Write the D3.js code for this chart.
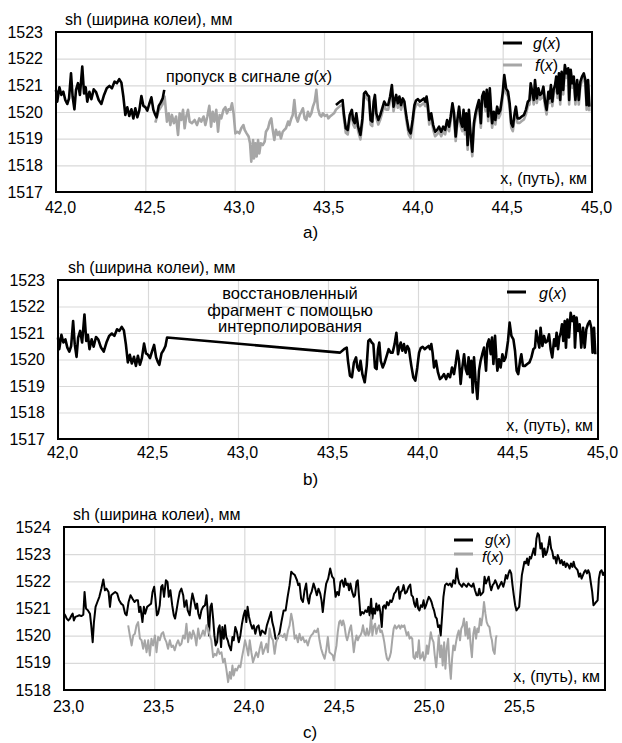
<!DOCTYPE html>
<html>
<head>
<meta charset="utf-8">
<script src="https://cdn.jsdelivr.net/npm/d3@7"></script>
<style>
  body { margin: 0; background: #fff; }
  text { font-family: "Liberation Sans", Arial, sans-serif; }
</style>
</head>
<body>
<svg id="chart"></svg>
<script>
// ---- data (km, mm) ----
const ticksXab = [42, 42.5, 43, 43.5, 44, 44.5, 45];
const ticksYab = [1517, 1518, 1519, 1520, 1521, 1522, 1523];
const ticksXc = [23, 23.5, 24, 24.5, 25, 25.5];
const ticksYc = [1518, 1519, 1520, 1521, 1522, 1523, 1524];

// g(x) before the gap
const gLeft = [[42.000,1520.83],[42.007,1520.39],[42.019,1520.93],[42.030,1520.64],[42.041,1520.76],[42.052,1520.45],[42.063,1520.30],[42.073,1520.51],[42.084,1521.45],[42.093,1520.58],[42.103,1520.10],[42.112,1520.83],[42.123,1521.08],[42.134,1520.64],[42.147,1521.70],[42.157,1520.70],[42.166,1520.93],[42.175,1520.39],[42.187,1520.76],[42.198,1520.48],[42.211,1520.85],[42.224,1520.75],[42.239,1520.45],[42.254,1520.30],[42.269,1520.64],[42.284,1520.89],[42.299,1520.98],[42.313,1520.89],[42.328,1521.14],[42.341,1521.08],[42.354,1521.23],[42.366,1521.10],[42.377,1520.58],[42.388,1519.89],[42.399,1520.18],[42.410,1519.85],[42.422,1520.10],[42.433,1519.76],[42.444,1520.14],[42.455,1519.80],[42.466,1520.05],[42.478,1520.60],[42.489,1520.23],[42.500,1520.18],[42.511,1520.05],[42.522,1520.30],[42.534,1520.55],[42.545,1520.08],[42.556,1519.89],[42.563,1519.80],[42.575,1520.23],[42.586,1520.35],[42.597,1520.51],[42.606,1520.83]];

// g(x) after the gap
const gRight = [[43.567,1520.26],[43.589,1520.39],[43.604,1520.45],[43.611,1519.95],[43.622,1519.39],[43.633,1519.33],[43.644,1519.89],[43.656,1520.08],[43.663,1519.70],[43.672,1519.58],[43.681,1519.95],[43.691,1519.45],[43.704,1519.14],[43.715,1519.76],[43.724,1520.70],[43.733,1520.76],[43.743,1520.64],[43.752,1520.58],[43.761,1519.70],[43.770,1519.64],[43.778,1520.39],[43.785,1520.64],[43.793,1519.95],[43.804,1519.70],[43.815,1519.89],[43.826,1520.14],[43.837,1520.39],[43.848,1520.26],[43.859,1520.26],[43.870,1520.58],[43.880,1521.01],[43.889,1520.20],[43.896,1520.45],[43.904,1520.64],[43.913,1520.33],[43.922,1520.58],[43.931,1520.26],[43.941,1520.51],[43.950,1520.39],[43.956,1520.08],[43.963,1519.76],[43.974,1519.33],[43.985,1519.20],[43.996,1519.70],[44.006,1520.26],[44.015,1520.43],[44.026,1520.48],[44.037,1520.39],[44.048,1520.45],[44.059,1520.51],[44.067,1520.39],[44.074,1520.58],[44.081,1520.26],[44.089,1519.70],[44.100,1519.95],[44.111,1519.51],[44.122,1519.26],[44.133,1519.33],[44.144,1519.45],[44.156,1519.26],[44.167,1519.45],[44.178,1519.33],[44.189,1519.70],[44.200,1519.45],[44.209,1519.83],[44.219,1520.33],[44.228,1519.95],[44.237,1519.08],[44.244,1519.58],[44.256,1520.20],[44.265,1519.64],[44.274,1519.45],[44.281,1520.08],[44.289,1519.33],[44.296,1519.95],[44.304,1518.76],[44.311,1520.08],[44.320,1519.20],[44.330,1518.51],[44.339,1519.58],[44.348,1519.95],[44.357,1520.20],[44.367,1520.45],[44.378,1519.58],[44.385,1520.58],[44.394,1520.76],[44.404,1520.20],[44.411,1520.83],[44.419,1519.83],[44.428,1520.89],[44.435,1520.08],[44.441,1519.58],[44.450,1520.01],[44.459,1519.70],[44.469,1520.20],[44.478,1519.95],[44.487,1520.08],[44.500,1520.70],[44.509,1521.39],[44.519,1520.89],[44.530,1520.76],[44.539,1520.33],[44.548,1519.58],[44.557,1519.45],[44.567,1519.95],[44.574,1520.20],[44.583,1519.76],[44.594,1519.76],[44.607,1519.83],[44.619,1519.89],[44.630,1520.08],[44.641,1520.39],[44.650,1520.45],[44.657,1521.08],[44.667,1520.70],[44.674,1520.45],[44.681,1521.20],[44.691,1520.51],[44.700,1520.89],[44.709,1520.64],[44.719,1520.70],[44.728,1520.95],[44.737,1520.39],[44.746,1520.08],[44.756,1520.76],[44.763,1520.51],[44.770,1521.01],[44.778,1520.39],[44.785,1520.83],[44.793,1521.01],[44.800,1521.33],[44.807,1520.70],[44.815,1521.45],[44.822,1520.45],[44.830,1521.51],[44.839,1520.83],[44.848,1521.76],[44.857,1521.45],[44.867,1521.64],[44.872,1520.45],[44.881,1521.58],[44.889,1521.08],[44.898,1521.33],[44.907,1520.45],[44.917,1521.20],[44.926,1520.45],[44.935,1521.14],[44.944,1521.33],[44.954,1521.45],[44.963,1521.20],[44.970,1520.26],[44.978,1521.20],[44.985,1520.20]];

// f(x), panel a
const fA = [[42.556,1519.60],[42.575,1520.05],[42.597,1520.30],[42.608,1520.58],[42.621,1519.64],[42.631,1519.95],[42.640,1519.51],[42.649,1519.89],[42.660,1519.58],[42.672,1519.83],[42.683,1519.14],[42.692,1519.95],[42.701,1519.70],[42.711,1520.08],[42.720,1519.39],[42.729,1519.83],[42.739,1520.08],[42.748,1519.64],[42.761,1519.58],[42.776,1519.70],[42.789,1519.51],[42.802,1519.76],[42.813,1519.64],[42.826,1519.83],[42.836,1519.51],[42.847,1519.83],[42.858,1520.23],[42.868,1519.45],[42.877,1520.01],[42.886,1519.64],[42.897,1520.08],[42.907,1519.26],[42.916,1519.89],[42.925,1519.76],[42.937,1520.08],[42.948,1520.18],[42.957,1519.95],[42.966,1520.10],[42.976,1520.08],[42.985,1520.33],[42.994,1519.95],[43.004,1519.20],[43.015,1519.26],[43.026,1519.20],[43.037,1519.39],[43.049,1519.51],[43.056,1519.33],[43.067,1519.20],[43.078,1519.08],[43.086,1518.83],[43.093,1518.14],[43.103,1518.95],[43.108,1518.26],[43.116,1518.83],[43.123,1518.33],[43.131,1518.95],[43.138,1518.45],[43.146,1518.83],[43.157,1518.76],[43.168,1518.89],[43.175,1519.26],[43.187,1519.39],[43.196,1519.64],[43.205,1519.76],[43.213,1519.33],[43.222,1518.95],[43.231,1519.33],[43.241,1519.14],[43.250,1519.26],[43.259,1519.01],[43.269,1519.26],[43.278,1519.33],[43.287,1519.39],[43.299,1519.64],[43.306,1519.51],[43.317,1519.76],[43.325,1519.89],[43.334,1520.45],[43.343,1519.83],[43.353,1519.64],[43.364,1519.89],[43.373,1520.01],[43.382,1520.14],[43.392,1519.76],[43.401,1519.70],[43.410,1520.01],[43.420,1519.83],[43.429,1519.95],[43.438,1520.20],[43.448,1520.39],[43.457,1520.83],[43.466,1520.14],[43.476,1519.89],[43.485,1519.83],[43.494,1519.95],[43.504,1519.85],[43.517,1519.89],[43.524,1519.76],[43.533,1519.83],[43.544,1519.89],[43.556,1519.95],[43.567,1520.09],[43.589,1520.22],[43.604,1520.28],[43.611,1519.78],[43.622,1519.22],[43.633,1519.16],[43.644,1519.72],[43.656,1519.91],[43.663,1519.53],[43.672,1519.41],[43.681,1519.78],[43.691,1519.28],[43.704,1518.97],[43.715,1519.59],[43.724,1520.53],[43.733,1520.59],[43.743,1520.47],[43.752,1520.41],[43.761,1519.53],[43.770,1519.47],[43.778,1520.22],[43.785,1520.47],[43.793,1519.78],[43.804,1519.53],[43.815,1519.72],[43.826,1519.97],[43.837,1520.22],[43.848,1520.09],[43.859,1520.09],[43.870,1520.41],[43.880,1520.84],[43.889,1520.03],[43.896,1520.28],[43.904,1520.47],[43.913,1520.16],[43.922,1520.41],[43.931,1520.09],[43.941,1520.34],[43.950,1520.22],[43.956,1519.91],[43.963,1519.59],[43.974,1519.16],[43.985,1519.03],[43.996,1519.53],[44.006,1520.09],[44.015,1520.26],[44.026,1520.31],[44.037,1520.22],[44.048,1520.28],[44.059,1520.34],[44.067,1520.22],[44.074,1520.41],[44.081,1520.09],[44.089,1519.53],[44.100,1519.78],[44.111,1519.34],[44.122,1519.09],[44.133,1519.16],[44.144,1519.28],[44.156,1519.09],[44.167,1519.28],[44.178,1519.16],[44.189,1519.53],[44.200,1519.28],[44.209,1519.66],[44.219,1520.16],[44.228,1519.78],[44.237,1518.91],[44.244,1519.41],[44.256,1520.03],[44.265,1519.47],[44.274,1519.28],[44.281,1519.91],[44.289,1519.16],[44.296,1519.78],[44.304,1518.59],[44.311,1519.91],[44.320,1519.03],[44.330,1518.34],[44.339,1519.41],[44.348,1519.78],[44.357,1520.03],[44.367,1520.28],[44.378,1519.41],[44.385,1520.41],[44.394,1520.59],[44.404,1520.03],[44.411,1520.66],[44.419,1519.66],[44.428,1520.72],[44.435,1519.91],[44.441,1519.41],[44.450,1519.84],[44.459,1519.53],[44.469,1520.03],[44.478,1519.78],[44.487,1519.91],[44.500,1520.53],[44.509,1521.22],[44.519,1520.72],[44.530,1520.59],[44.539,1520.16],[44.548,1519.41],[44.557,1519.28],[44.567,1519.78],[44.574,1520.03],[44.583,1519.59],[44.594,1519.59],[44.607,1519.66],[44.619,1519.72],[44.630,1519.91],[44.641,1520.22],[44.650,1520.28],[44.657,1520.91],[44.667,1520.53],[44.674,1520.28],[44.681,1521.03],[44.691,1520.34],[44.700,1520.72],[44.709,1520.47],[44.719,1520.53],[44.728,1520.78],[44.737,1520.22],[44.746,1519.91],[44.756,1520.59],[44.763,1520.34],[44.770,1520.84],[44.778,1520.22],[44.785,1520.66],[44.793,1520.84],[44.800,1521.16],[44.807,1520.53],[44.815,1521.28],[44.822,1520.28],[44.830,1521.34],[44.839,1520.66],[44.848,1521.59],[44.857,1521.28],[44.867,1521.47],[44.872,1520.28],[44.881,1521.41],[44.889,1520.91],[44.898,1521.16],[44.907,1520.28],[44.917,1521.03],[44.926,1520.28],[44.935,1520.97],[44.944,1521.16],[44.954,1521.28],[44.963,1521.03],[44.970,1520.09],[44.978,1521.03],[44.985,1520.03]];

// g(x), panel c
const gC = [[23.000,1520.81],[23.007,1520.75],[23.015,1520.63],[23.024,1520.56],[23.033,1520.63],[23.042,1520.75],[23.048,1520.81],[23.055,1520.56],[23.063,1520.69],[23.074,1520.72],[23.085,1520.75],[23.096,1520.72],[23.107,1520.77],[23.114,1521.61],[23.122,1521.00],[23.133,1520.93],[23.144,1520.81],[23.151,1520.38],[23.159,1519.76],[23.166,1520.50],[23.175,1521.06],[23.185,1521.24],[23.196,1521.43],[23.207,1521.73],[23.218,1522.07],[23.227,1521.67],[23.236,1521.73],[23.247,1521.61],[23.255,1521.06],[23.262,1521.49],[23.273,1521.55],[23.284,1521.61],[23.295,1521.55],[23.306,1521.30],[23.317,1521.18],[23.328,1521.12],[23.339,1520.81],[23.347,1520.75],[23.358,1521.24],[23.369,1521.49],[23.380,1521.36],[23.391,1521.24],[23.399,1521.30],[23.410,1521.30],[23.417,1520.87],[23.424,1521.06],[23.435,1520.50],[23.443,1521.06],[23.450,1520.81],[23.461,1521.06],[23.472,1521.12],[23.483,1521.18],[23.491,1521.61],[23.500,1521.80],[23.507,1521.36],[23.515,1520.75],[23.522,1520.81],[23.531,1521.12],[23.539,1521.80],[23.546,1521.86],[23.555,1521.43],[23.565,1522.04],[23.574,1521.98],[23.581,1521.43],[23.590,1521.67],[23.600,1521.12],[23.609,1520.75],[23.616,1520.63],[23.624,1520.93],[23.633,1521.30],[23.642,1521.61],[23.651,1521.73],[23.661,1521.49],[23.668,1521.06],[23.679,1521.30],[23.686,1520.93],[23.697,1520.75],[23.705,1521.24],[23.712,1521.55],[23.721,1521.30],[23.731,1520.99],[23.738,1521.18],[23.745,1520.81],[23.753,1520.63],[23.762,1520.93],[23.771,1521.06],[23.782,1521.12],[23.790,1521.49],[23.797,1520.87],[23.804,1520.01],[23.812,1521.06],[23.819,1521.18],[23.827,1520.63],[23.834,1520.01],[23.841,1519.64],[23.849,1519.76],[23.856,1520.26],[23.863,1520.38],[23.871,1519.58],[23.878,1520.32],[23.886,1519.89],[23.893,1520.38],[23.900,1519.95],[23.908,1519.83],[23.915,1519.64],[23.926,1519.46],[23.934,1519.95],[23.941,1519.83],[23.950,1520.32],[23.959,1520.13],[23.969,1519.76],[23.978,1520.01],[23.987,1520.44],[23.996,1520.75],[24.004,1520.93],[24.011,1520.50],[24.018,1521.06],[24.026,1520.69],[24.035,1520.44],[24.044,1520.26],[24.052,1520.38],[24.061,1520.07],[24.070,1520.32],[24.079,1520.38],[24.089,1520.01],[24.098,1520.19],[24.107,1520.13],[24.116,1520.07],[24.125,1520.38],[24.137,1520.63],[24.148,1520.87],[24.155,1520.50],[24.164,1520.26],[24.173,1519.89],[24.184,1519.89],[24.196,1520.13],[24.207,1520.56],[24.218,1520.93],[24.229,1520.93],[24.240,1521.43],[24.251,1521.86],[24.260,1522.35],[24.269,1522.29],[24.280,1522.23],[24.292,1522.04],[24.299,1521.86],[24.306,1521.92],[24.315,1521.36],[24.325,1521.24],[24.334,1521.67],[24.343,1521.92],[24.351,1521.36],[24.358,1521.18],[24.365,1521.49],[24.373,1521.61],[24.384,1521.92],[24.393,1521.73],[24.402,1521.49],[24.411,1521.73],[24.421,1521.55],[24.428,1521.30],[24.435,1520.87],[24.445,1521.49],[24.454,1521.92],[24.465,1522.10],[24.476,1522.47],[24.487,1522.17],[24.496,1522.10],[24.506,1521.43],[24.515,1521.61],[24.524,1521.49],[24.533,1521.98],[24.542,1522.04],[24.552,1521.80],[24.559,1522.10],[24.566,1521.86],[24.574,1521.92],[24.581,1521.67],[24.588,1521.92],[24.598,1521.61],[24.607,1521.43],[24.614,1521.49],[24.622,1521.98],[24.629,1522.04],[24.636,1521.43],[24.644,1520.75],[24.653,1520.87],[24.662,1520.81],[24.671,1520.93],[24.680,1520.87],[24.688,1521.06],[24.695,1520.75],[24.703,1521.36],[24.710,1520.63],[24.717,1521.00],[24.725,1520.81],[24.732,1521.18],[24.739,1520.93],[24.747,1521.12],[24.754,1520.87],[24.762,1520.32],[24.769,1521.06],[24.776,1521.12],[24.784,1521.00],[24.791,1521.24],[24.800,1521.12],[24.809,1521.30],[24.817,1521.24],[24.824,1521.36],[24.831,1521.55],[24.839,1521.61],[24.846,1521.73],[24.854,1521.80],[24.861,1521.36],[24.868,1521.61],[24.876,1521.67],[24.883,1521.86],[24.892,1521.55],[24.901,1521.61],[24.911,1521.80],[24.920,1521.88],[24.927,1521.49],[24.935,1521.43],[24.942,1521.18],[24.949,1521.06],[24.957,1521.36],[24.964,1521.00],[24.971,1520.93],[24.979,1521.12],[24.986,1521.06],[24.994,1521.30],[25.001,1521.00],[25.008,1521.12],[25.016,1521.30],[25.023,1521.43],[25.030,1521.36],[25.038,1521.24],[25.045,1521.06],[25.052,1520.93],[25.060,1520.69],[25.067,1520.63],[25.074,1520.32],[25.082,1520.38],[25.089,1520.01],[25.097,1520.75],[25.104,1521.43],[25.113,1521.86],[25.122,1521.92],[25.132,1521.86],[25.141,1521.92],[25.150,1521.80],[25.159,1522.04],[25.169,1521.92],[25.178,1522.47],[25.185,1522.10],[25.192,1521.92],[25.200,1521.86],[25.207,1521.80],[25.215,1521.92],[25.224,1521.86],[25.233,1521.80],[25.242,1521.92],[25.251,1521.86],[25.261,1521.80],[25.270,1521.92],[25.279,1521.67],[25.288,1521.49],[25.296,1521.49],[25.303,1521.73],[25.310,1521.49],[25.318,1521.55],[25.325,1521.61],[25.332,1522.17],[25.340,1521.92],[25.347,1522.04],[25.355,1522.17],[25.362,1521.86],[25.369,1521.67],[25.377,1521.86],[25.384,1521.92],[25.391,1522.04],[25.399,1521.92],[25.408,1521.73],[25.417,1521.86],[25.426,1521.98],[25.436,1521.80],[25.443,1521.98],[25.450,1522.23],[25.458,1522.10],[25.465,1522.29],[25.472,1522.41],[25.480,1522.29],[25.487,1521.86],[25.494,1521.49],[25.502,1521.12],[25.509,1520.93],[25.517,1521.00],[25.524,1521.06],[25.531,1521.61],[25.539,1522.23],[25.546,1522.47],[25.553,1522.72],[25.561,1522.66],[25.568,1522.84],[25.575,1522.60],[25.583,1522.90],[25.590,1522.84],[25.598,1523.03],[25.605,1523.21],[25.612,1522.97],[25.620,1523.58],[25.627,1523.77],[25.634,1523.70],[25.642,1523.21],[25.649,1523.40],[25.657,1522.90],[25.664,1523.21],[25.671,1522.97],[25.679,1523.09],[25.686,1523.33],[25.693,1523.64],[25.701,1523.21],[25.708,1523.09],[25.715,1522.84],[25.723,1522.90],[25.730,1522.66],[25.738,1522.97],[25.745,1522.84],[25.752,1522.66],[25.760,1522.78],[25.767,1522.60],[25.774,1522.72],[25.782,1522.53],[25.789,1522.66],[25.796,1522.60],[25.804,1522.47],[25.811,1522.66],[25.819,1522.53],[25.826,1522.72],[25.833,1522.53],[25.841,1522.47],[25.848,1522.41],[25.856,1522.17],[25.863,1522.29],[25.870,1522.10],[25.878,1522.23],[25.885,1522.35],[25.892,1522.41],[25.900,1522.29],[25.907,1522.41],[25.914,1522.29],[25.922,1521.92],[25.929,1521.61],[25.936,1521.12],[25.944,1521.18],[25.951,1521.24],[25.959,1521.30],[25.966,1522.10],[25.973,1522.35],[25.981,1522.41],[25.989,1522.23],[25.996,1522.35]];

// f(x), panel c
const fC = [[23.356,1520.38],[23.365,1520.01],[23.375,1519.64],[23.384,1520.01],[23.393,1520.07],[23.402,1520.38],[23.411,1520.50],[23.421,1519.89],[23.430,1519.83],[23.439,1519.52],[23.448,1519.83],[23.458,1519.39],[23.467,1519.83],[23.476,1519.27],[23.485,1519.89],[23.494,1519.64],[23.504,1520.01],[23.513,1519.39],[23.522,1519.95],[23.531,1519.83],[23.541,1520.07],[23.550,1520.13],[23.559,1519.89],[23.568,1519.76],[23.577,1519.52],[23.587,1519.83],[23.596,1519.58],[23.605,1519.64],[23.614,1519.46],[23.624,1519.70],[23.633,1519.83],[23.642,1519.64],[23.651,1519.70],[23.661,1520.01],[23.670,1519.89],[23.679,1520.44],[23.688,1519.76],[23.697,1520.13],[23.707,1519.89],[23.716,1520.19],[23.725,1520.01],[23.734,1519.64],[23.744,1520.26],[23.753,1519.89],[23.762,1520.01],[23.771,1520.19],[23.780,1520.01],[23.790,1520.38],[23.799,1520.26],[23.808,1520.01],[23.817,1519.83],[23.827,1519.21],[23.836,1519.33],[23.845,1519.27],[23.854,1519.52],[23.863,1519.33],[23.873,1519.39],[23.882,1519.02],[23.891,1519.15],[23.900,1518.78],[23.910,1518.29],[23.919,1518.66],[23.926,1518.41],[23.934,1518.90],[23.941,1518.53],[23.950,1518.78],[23.959,1518.72],[23.969,1518.90],[23.978,1518.84],[23.987,1519.21],[23.996,1519.52],[24.004,1519.83],[24.013,1519.58],[24.022,1519.27],[24.030,1519.83],[24.039,1519.39],[24.048,1519.02],[24.057,1519.21],[24.066,1519.39],[24.076,1519.21],[24.085,1519.52],[24.094,1519.76],[24.103,1519.33],[24.113,1519.52],[24.122,1519.70],[24.131,1519.39],[24.140,1520.26],[24.149,1519.95],[24.159,1519.83],[24.168,1519.33],[24.177,1519.76],[24.186,1519.95],[24.196,1520.01],[24.205,1520.01],[24.214,1519.95],[24.223,1520.07],[24.232,1519.83],[24.242,1520.19],[24.251,1520.38],[24.260,1520.81],[24.269,1520.50],[24.279,1519.89],[24.288,1520.01],[24.297,1519.76],[24.306,1520.07],[24.315,1519.83],[24.325,1519.95],[24.334,1519.76],[24.343,1519.83],[24.352,1519.64],[24.362,1519.89],[24.371,1520.01],[24.380,1520.07],[24.389,1520.19],[24.399,1520.13],[24.408,1520.26],[24.417,1519.83],[24.426,1519.52],[24.435,1519.33],[24.445,1519.15],[24.454,1519.46],[24.463,1519.95],[24.472,1519.39],[24.482,1519.33],[24.491,1519.27],[24.496,1519.09],[24.504,1519.39],[24.511,1519.64],[24.518,1520.13],[24.526,1520.50],[24.533,1520.56],[24.541,1520.38],[24.548,1520.56],[24.555,1520.38],[24.563,1520.01],[24.570,1519.83],[24.577,1520.01],[24.585,1520.26],[24.592,1520.38],[24.599,1519.95],[24.607,1519.39],[24.614,1519.76],[24.622,1520.01],[24.629,1519.83],[24.636,1519.95],[24.644,1520.01],[24.651,1520.13],[24.658,1520.38],[24.666,1520.07],[24.673,1520.01],[24.680,1520.26],[24.688,1520.01],[24.695,1520.13],[24.703,1520.75],[24.710,1520.01],[24.717,1520.32],[24.725,1520.44],[24.732,1520.07],[24.739,1520.26],[24.747,1520.38],[24.754,1520.13],[24.762,1520.19],[24.769,1520.01],[24.776,1519.76],[24.784,1519.39],[24.791,1519.15],[24.798,1519.09],[24.806,1519.21],[24.813,1519.39],[24.820,1519.83],[24.828,1520.26],[24.835,1520.38],[24.843,1520.26],[24.850,1520.32],[24.857,1520.38],[24.865,1520.26],[24.872,1520.38],[24.879,1520.32],[24.887,1520.38],[24.894,1520.19],[24.901,1520.01],[24.909,1520.13],[24.916,1519.89],[24.924,1519.95],[24.931,1519.89],[24.938,1519.21],[24.946,1519.15],[24.953,1519.39],[24.960,1519.21],[24.968,1519.83],[24.975,1519.15],[24.982,1519.21],[24.990,1519.39],[24.997,1519.09],[25.005,1519.21],[25.012,1519.64],[25.019,1519.33],[25.027,1519.76],[25.034,1520.13],[25.041,1519.89],[25.049,1519.76],[25.056,1519.27],[25.064,1518.84],[25.071,1519.39],[25.078,1520.01],[25.086,1519.21],[25.093,1519.64],[25.100,1518.90],[25.108,1519.76],[25.115,1518.78],[25.122,1519.52],[25.130,1519.89],[25.137,1519.02],[25.145,1518.41],[25.152,1519.15],[25.159,1519.64],[25.167,1519.46],[25.174,1519.76],[25.181,1520.01],[25.189,1520.19],[25.196,1519.83],[25.203,1520.26],[25.211,1520.38],[25.218,1520.63],[25.226,1520.01],[25.233,1520.50],[25.240,1519.89],[25.248,1520.26],[25.255,1519.64],[25.262,1519.21],[25.270,1520.07],[25.277,1520.32],[25.285,1519.89],[25.292,1520.26],[25.299,1520.13],[25.307,1520.63],[25.314,1520.38],[25.322,1520.75],[25.329,1521.24],[25.337,1520.81],[25.344,1520.50],[25.351,1520.38],[25.359,1520.32],[25.366,1520.01],[25.373,1519.83],[25.380,1519.46],[25.388,1519.33],[25.395,1519.89],[25.399,1520.01]];

// ---- drawing ----
const W = 622, H = 743;
const BLACK = "#000", GRAY = "#a6a6a6", GRID = "#d9d9d9";
const FS = 16;
const fmt = d3.formatLocale({decimal: ",", thousands: "\u00a0", grouping: [3], currency: ["", ""]}).format(".1f");

const svg = d3.select("#chart").attr("width", W).attr("height", H);

function fnLabel(sel, name) {
  // g(x) / f(x) with italic letters
  sel.append("tspan").attr("font-style", "italic").text(name);
  sel.append("tspan").text("(");
  sel.append("tspan").attr("font-style", "italic").text("x");
  sel.append("tspan").text(")");
}

function panel(p) {
  const x = d3.scaleLinear().domain(p.xDomain).range([p.left, p.right]);
  const y = d3.scaleLinear().domain(p.yDomain).range([p.bottom, p.top]);
  const root = svg.append("g");

  // grid
  root.append("g")
      .attr("transform", `translate(0,${p.bottom})`)
      .call(d3.axisBottom(x).tickValues(p.xTicks).tickSize(-(p.bottom - p.top)).tickFormat(""))
      .call(s => s.select(".domain").remove())
      .call(s => s.selectAll("line").attr("stroke", GRID).attr("stroke-width", 1.2));
  root.append("g")
      .attr("transform", `translate(${p.left},0)`)
      .call(d3.axisLeft(y).tickValues(p.yTicks).tickSize(-(p.right - p.left)).tickFormat(""))
      .call(s => s.select(".domain").remove())
      .call(s => s.selectAll("line").attr("stroke", GRID).attr("stroke-width", 1.2));

  // series
  const line = d3.line().x(d => x(d[0])).y(d => y(d[1]));
  p.series.forEach(s => {
    root.append("path")
        .datum(s.data)
        .attr("fill", "none")
        .attr("stroke", s.color)
        .attr("stroke-width", s.width)
        .attr("stroke-linejoin", "round")
        .attr("d", line);
  });

  // frame
  root.append("rect")
      .attr("x", p.left).attr("y", p.top)
      .attr("width", p.right - p.left).attr("height", p.bottom - p.top)
      .attr("fill", "none").attr("stroke", BLACK).attr("stroke-width", 2);

  // tick labels
  root.append("g")
      .attr("transform", `translate(0,${p.bottom})`)
      .call(d3.axisBottom(x).tickValues(p.xLabels).tickSize(0).tickPadding(p.xPad).tickFormat(fmt))
      .call(s => s.select(".domain").remove())
      .call(s => s.selectAll("text").attr("dx", 4).attr("font-size", FS)
          .attr("font-family", "Liberation Sans, Arial, sans-serif").attr("fill", "#000"));
  root.append("g")
      .attr("transform", `translate(${p.left},0)`)
      .call(d3.axisLeft(y).tickValues(p.yTicks).tickSize(0).tickPadding(13).tickFormat(d3.format("d")))
      .call(s => s.select(".domain").remove())
      .call(s => s.selectAll("text").attr("font-size", FS)
          .attr("font-family", "Liberation Sans, Arial, sans-serif").attr("fill", "#000"));

  // axis titles
  root.append("text").attr("x", p.left + p.titleDx).attr("y", p.top - 7)
      .attr("font-size", FS).text("sh (ширина колеи), мм");
  root.append("text").attr("x", p.right - 5).attr("y", p.bottom - 8)
      .attr("text-anchor", "end").attr("font-size", FS).text("x, (путь), км");

  // legend
  p.legend.forEach(l => {
    root.append("line")
        .attr("x1", l.x).attr("x2", l.x + 19).attr("y1", l.y).attr("y2", l.y)
        .attr("stroke", l.color).attr("stroke-width", 3);
    root.append("text").attr("x", l.tx).attr("y", l.ty)
        .attr("font-size", p.legendFs || FS).call(fnLabel, l.name);
  });

  // caption
  svg.append("text").attr("x", 303).attr("y", p.capY)
      .attr("font-family", "DejaVu Serif, serif").attr("font-size", 17).text(p.caption);
  return root;
}

const a = panel({
  left: 56, right: 592, top: 32, bottom: 192,
  xDomain: [42, 45], yDomain: [1517, 1523],
  xTicks: ticksXab, xLabels: ticksXab, yTicks: ticksYab, xPad: 9.5, titleDx: 9,
  series: [
    {data: fA, color: GRAY, width: 2.6},
    {data: gLeft, color: BLACK, width: 2.6},
    {data: gRight, color: BLACK, width: 2.6}
  ],
  legend: [
    {name: "g", color: BLACK, x: 503, y: 43, tx: 533, ty: 49},
    {name: "f", color: GRAY, x: 503, y: 65, tx: 535, ty: 71}
  ],
  caption: "a)", capY: 238
});
a.append("text").attr("x", 166).attr("y", 82).attr("font-size", FS)
    .call(s => { s.append("tspan").text("пропуск в сигнале "); fnLabel(s, "g"); });

const b = panel({
  left: 58, right: 598, top: 280, bottom: 439,
  xDomain: [42, 45], yDomain: [1517, 1523],
  xTicks: ticksXab, xLabels: ticksXab, yTicks: ticksYab, xPad: 8, titleDx: 10,
  series: [
    {data: gLeft.concat(gRight), color: BLACK, width: 2.6}
  ],
  legend: [
    {name: "g", color: BLACK, x: 507, y: 292, tx: 539, ty: 299}
  ],
  caption: "b)", capY: 485
});
b.append("text").attr("text-anchor", "middle").attr("font-size", 16.5)
  .selectAll("tspan")
  .data(["восстановленный", "фрагмент с помощью", "интерполирования"])
  .join("tspan")
    .attr("x", 290).attr("y", (d, i) => 299 + i * 16.5)
    .text(d => d);

panel({
  left: 64, right: 605, top: 527, bottom: 690,
  xDomain: [23, 26], yDomain: [1518, 1524],
  xTicks: ticksXc, xLabels: ticksXc, yTicks: ticksYc, xPad: 10.5, titleDx: 9,
  series: [
    {data: gC, color: BLACK, width: 2},
    {data: fC, color: GRAY, width: 2}
  ],
  legendFs: 15,
  legend: [
    {name: "g", color: BLACK, x: 454, y: 540, tx: 485, ty: 545},
    {name: "f", color: GRAY, x: 454, y: 554, tx: 482, ty: 562}
  ],
  caption: "c)", capY: 738
});
</script>
</body>
</html>
